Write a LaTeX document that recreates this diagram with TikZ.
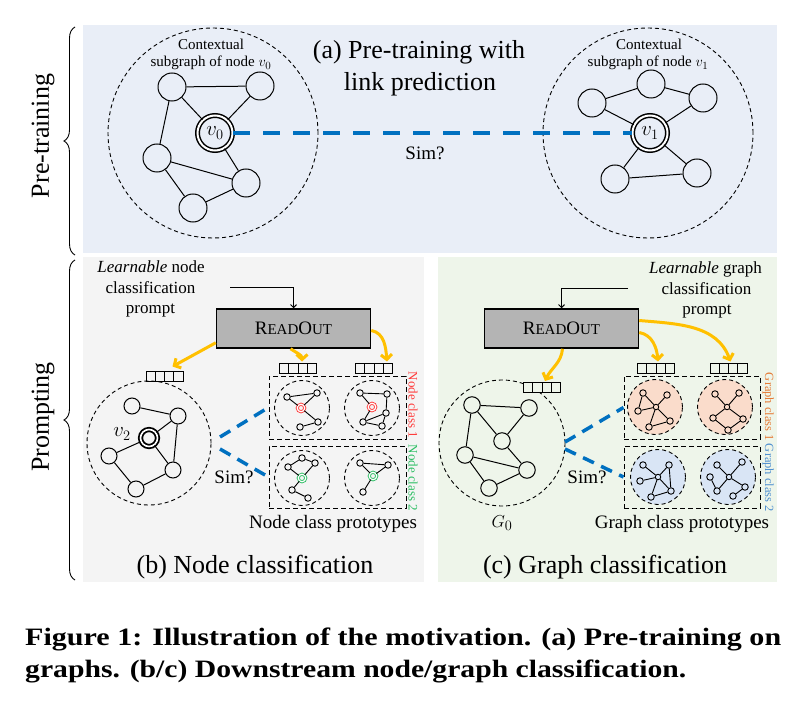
\documentclass[tikz,border=0pt]{standalone}
\usepackage{fontspec}
\setmainfont{Liberation Serif}
\usetikzlibrary{arrows.meta,decorations.pathreplacing,calc}
\definecolor{pbg}{HTML}{E9EEF7}
\definecolor{gbg}{HTML}{F4F4F4}
\definecolor{grbg}{HTML}{EEF5EA}
\definecolor{sblue}{HTML}{0070C0}
\definecolor{gold}{HTML}{FFC000}
\definecolor{rogray}{HTML}{B4B4B4}
\definecolor{ncred}{HTML}{FF3B3B}
\definecolor{ncgreen}{HTML}{2DBE64}
\definecolor{gcorange}{HTML}{E57A35}
\definecolor{gcblue}{HTML}{4F90D0}
\definecolor{cofill}{HTML}{FADCCB}
\definecolor{ctfill}{HTML}{D9E5F5}
\newcommand{\fsz}[1]{\fontsize{#1pt}{#1pt}\selectfont}
\begin{document}
\begin{tikzpicture}[x=1pt,y=-1pt,
 gnode/.style={circle,draw,line width=1pt,minimum size=28pt,inner sep=0pt},
 mnode/.style={circle,draw,line width=1pt,minimum size=16pt,inner sep=0pt},
 tnode/.style={circle,draw,line width=0.9pt,minimum size=6.5pt,inner sep=0pt},
 hnode/.style={circle,draw,line width=0.9pt,minimum size=5.5pt,inner sep=0pt},
 ctr/.style={circle,draw,line width=1.5pt,double,double distance=2pt,minimum size=35pt,inner sep=0pt,font=\fsz{20}},
 tctr/.style={circle,line width=0.9pt,double,double distance=1.2pt,minimum size=7.5pt,inner sep=0pt},
 gedge/.style={line width=1pt},
 sedge/.style={line width=0.9pt},
 dcirc/.style={circle,draw,dash pattern=on 4pt off 3pt,line width=0.9pt,inner sep=0pt},
 drect/.style={draw,dash pattern=on 5pt off 3pt,line width=1pt,inner sep=0pt},
 simline/.style={draw=sblue,line width=3.5pt,dash pattern=on 12pt off 8pt},
 oarrow/.style={draw=gold,line width=3pt,-{Straight Barb[length=5pt,width=11pt]}},
 karrow/.style={draw,line width=1pt,-{Straight Barb[length=3pt,width=6pt]}},
 rbox/.style={draw,line width=1.5pt,fill=rogray,minimum width=154pt,minimum height=39pt,inner sep=0pt},
 vec/.style={draw,line width=1pt,minimum width=37pt,minimum height=10pt,inner sep=0pt,
   path picture={\foreach \f in {0.25,0.5,0.75}{\draw[line width=1pt] ($(path picture bounding box.south west)!\f!(path picture bounding box.south east)$) -- ($(path picture bounding box.north west)!\f!(path picture bounding box.north east)$);}}},
 lbl/.style={inner sep=0pt,anchor=base},
]
\path[use as bounding box] (0,0) rectangle (799,703);
% panels
\fill[pbg] (83,25) rectangle (777,253);
\fill[gbg] (83,257) rectangle (424,582);
\fill[grbg] (438,257) rectangle (777,582);
% braces and side labels
\draw[decorate,decoration={brace,amplitude=11pt},line width=0.9pt] (75,255) -- (75,27);
\draw[decorate,decoration={brace,amplitude=11pt},line width=0.9pt] (75,580) -- (75,260);
\node[rotate=90,font=\fsz{26},inner sep=0pt] (lpre) at (43,136) {Pre-training};
\node[rotate=90,font=\fsz{26},inner sep=0pt] (lpro) at (43,417) {Prompting};

% ===== (a) =====
\node[dcirc,minimum size=210pt] (c0) at (213,133) {};
\node[dcirc,minimum size=210pt] (c1) at (648,133) {};
\node[lbl,font=\fsz{15}] (ctx0a) at (211,50) {Contextual};
\node[lbl,font=\fsz{15}] (ctx0b) at (211,67) {subgraph of node $v_0$};
\node[lbl,font=\fsz{15}] (ctx1a) at (649,50) {Contextual};
\node[lbl,font=\fsz{15}] (ctx1b) at (648,67) {subgraph of node $v_1$};
\node[lbl,font=\fsz{26}] (ta1) at (419,59) {(a) Pre-training with};
\node[lbl,font=\fsz{26}] (ta2) at (420,91) {link prediction};
\node[lbl,font=\fsz{19}] (sima) at (425,160) {Sim?};

\node[gnode] (A) at (172,87) {};
\node[gnode] (B) at (260,86) {};
\node[ctr] (v0) at (215,133) {$v_0$};
\node[gnode] (C) at (157,158) {};
\node[gnode] (D) at (246,183) {};
\node[gnode] (E) at (193,208) {};
\foreach \a/\b in {A/B,A/v0,B/v0,A/C,v0/D,C/D,C/E,E/D} \draw[gedge] (\a) -- (\b);

\node[gnode] (F) at (592,103) {};
\node[gnode] (G) at (651,84) {};
\node[gnode] (H) at (703,98) {};
\node[ctr] (v1) at (650,133) {$v_1$};
\node[gnode] (I) at (615,179) {};
\node[gnode] (J) at (697,173) {};
\foreach \a/\b in {F/G,G/H,F/v1,H/v1,v1/I,v1/J,I/J} \draw[gedge] (\a) -- (\b);

\draw[simline,line width=4.5pt,dash pattern=on 17pt off 13pt] (v0) -- (v1);

% ===== (b) =====
\node[lbl,font=\fsz{17}] (lb1) at (151,272) {\textit{Learnable} node};
\node[lbl,font=\fsz{17}] (lb2) at (150.5,293) {classification};
\node[lbl,font=\fsz{17}] (lb3) at (150.5,313) {prompt};
\node[rbox] (RO1) at (293.5,328.5) {\fsz{19}R\fsz{15}EAD\fsz{19}O\fsz{15}UT};
\coordinate (pb) at (230,287);
\draw[karrow] (pb) -| (RO1.north);

\node[vec] (VL) at (164.5,376) {};
\node[vec] (VM) at (298,368) {};
\node[vec] (VR) at (374,368) {};

\node[dcirc,minimum size=124pt] (cb) at (149,443) {};
\node[mnode] (a) at (132,406) {};
\node[mnode] (b) at (178,416) {};
\node[circle,draw,line width=1.8pt,double,double distance=1.6pt,minimum size=17pt,inner sep=0pt] (v2) at (149,438) {};
\node[mnode] (c) at (109,456) {};
\node[mnode] (d) at (173,470) {};
\node[mnode] (e) at (136,489) {};
\foreach \p/\q in {a/b,b/v2,b/d,v2/c,c/e,e/d,v2/d} \draw[gedge] (\p) -- (\q);
\node[font=\fsz{20},inner sep=0pt] (v2l) at (122,434) {$v_2$};

\node[drect,minimum width=137pt,minimum height=63pt] (R1) at (337.5,407.5) {};
\node[drect,minimum width=137pt,minimum height=62pt] (R2) at (337.5,477) {};
\node[dcirc,minimum size=55pt] (p11) at (302,408) {};
\node[dcirc,minimum size=55pt] (p12) at (372,408) {};
\node[dcirc,minimum size=55pt] (p21) at (302,478) {};
\node[dcirc,minimum size=55pt] (p22) at (372,478) {};

% class1 left
\node[tnode] (q1) at (287,397) {};
\node[tnode] (q2) at (317,393) {};
\node[tctr,draw=ncred] (qc) at (301,408) {};
\node[tnode] (q4) at (318,422) {};
\node[tnode] (q5) at (300,427) {};
\foreach \p/\q in {q1/q2,q2/qc,q1/qc,qc/q4,q4/q5} \draw[sedge] (\p) -- (\q);
% class1 right
\node[tnode] (r1) at (360,393) {};
\node[tnode] (r2) at (387,394) {};
\node[tctr,draw=ncred] (rc) at (372,407) {};
\node[tnode] (r4) at (386,413) {};
\node[tnode] (r5) at (363,422) {};
\node[tnode] (r6) at (382,426) {};
\foreach \p/\q in {r1/r2,r1/rc,r2/r4,rc/r5,r4/r5,r4/r6,r5/r6} \draw[sedge] (\p) -- (\q);
% class2 left
\node[tnode] (s1) at (288,467) {};
\node[tnode] (s2) at (302,458) {};
\node[tnode] (s3) at (315,463) {};
\node[tctr,draw=ncgreen] (sc) at (302,478) {};
\node[tnode] (s5) at (292,490) {};
\node[tnode] (s6) at (308,498) {};
\foreach \p/\q in {s1/s2,s2/s3,s3/sc,s1/sc,sc/s5,s5/s6} \draw[sedge] (\p) -- (\q);
% class2 right
\node[tnode] (t1) at (360,463) {};
\node[tnode] (t2) at (388,465) {};
\node[tctr,draw=ncgreen] (tc) at (373,476) {};
\node[tnode] (t4) at (363,492) {};
\foreach \p/\q in {t1/t2,t1/tc,t2/tc,tc/t4} \draw[sedge] (\p) -- (\q);

\node[rotate=-90,text=ncred,font=\fsz{13},inner sep=0pt] (nc1) at (413,405) {Node class 1};
\node[rotate=-90,text=ncgreen,font=\fsz{13},inner sep=0pt] (nc2) at (413,478) {Node class 2};

\coordinate (sb1) at (220,437);
\coordinate (sb2) at (220,449);
\draw[simline] (sb1) -- (R1.west);
\draw[simline] (sb2) -- (R2.west);
\node[lbl,font=\fsz{19}] (simb) at (234,483) {Sim?};
\node[lbl,font=\fsz{19}] (ncp) at (333,528) {Node class prototypes};
\node[lbl,font=\fsz{26}] (capb) at (255,573) {(b) Node classification};

\draw[oarrow] ($(RO1.south west)+(0,-6)$) -- ($(VL.north)+(8,-4)$);
\draw[oarrow] ($(RO1.south)+(-3,0)$) to[out=-35,in=90] ($(VM.north)+(4,-1)$);
\draw[oarrow] ($(RO1.east)+(0,2)$) to[out=-10,in=95] ($(VR.north)+(13,-1)$);

% ===== (c) =====
\node[lbl,font=\fsz{17}] (lc1) at (705.5,273) {\textit{Learnable} graph};
\node[lbl,font=\fsz{17}] (lc2) at (706.5,294) {classification};
\node[lbl,font=\fsz{17}] (lc3) at (707,314) {prompt};
\node[rbox] (RO2) at (561.5,328.5) {\fsz{19}R\fsz{15}EAD\fsz{19}O\fsz{15}UT};
\coordinate (pc) at (628,288);
\draw[karrow] (pc) -| (RO2.north);

\node[dcirc,minimum size=126pt] (cg) at (502,443) {};
\node[mnode,minimum size=16.5pt] (g1) at (472,405) {};
\node[mnode,minimum size=16.5pt] (g2) at (529,408) {};
\node[mnode,minimum size=16.5pt] (g3) at (502,441) {};
\node[mnode,minimum size=16.5pt] (g4) at (465,455) {};
\node[mnode,minimum size=16.5pt] (g5) at (527,470) {};
\node[mnode,minimum size=16.5pt] (g6) at (489,488) {};
\foreach \p/\q in {g1/g2,g1/g4,g1/g3,g3/g2,g3/g5,g4/g5,g4/g6,g6/g5} \draw[gedge] (\p) -- (\q);
\node[font=\fsz{19},inner sep=0pt] (g0l) at (502,523) {$G_0$};

\node[vec,fill=grbg] (VG0) at (542,387.5) {};
\node[vec] (VGM) at (656,368) {};
\node[vec] (VGR) at (728.5,368) {};

\node[drect,minimum width=136pt,minimum height=63pt] (R3) at (692,407.5) {};
\node[drect,minimum width=136pt,minimum height=62pt] (R4) at (692,477) {};
\node[dcirc,fill=cofill,minimum size=55pt] (h11) at (655,407) {};
\node[dcirc,fill=cofill,minimum size=55pt] (h12) at (725,407) {};
\node[dcirc,fill=ctfill,minimum size=55pt] (h21) at (658,477) {};
\node[dcirc,fill=ctfill,minimum size=55pt] (h22) at (728,477) {};

% graph class 1 left
\node[hnode] (u0) at (656,407) {};
\node[tnode] (u1) at (643,393) {};
\node[tnode] (u2) at (667,395) {};
\node[tnode] (u3) at (638,411) {};
\node[tnode] (u4) at (670,421) {};
\node[tnode] (u5) at (649,427) {};
\foreach \p/\q in {u0/u2,u0/u1,u1/u3,u3/u0,u0/u5,u5/u4,u4/u0} \draw[sedge] (\p) -- (\q);
% graph class 1 right
\node[hnode] (w0) at (727,407) {};
\node[tnode] (w1) at (715,394) {};
\node[tnode] (w2) at (739,393) {};
\node[tnode] (w3) at (713,418) {};
\node[tnode] (w4) at (743,419) {};
\node[tnode] (w5) at (728,430) {};
\foreach \p/\q in {w0/w1,w0/w2,w0/w3,w0/w4,w3/w5,w4/w5} \draw[sedge] (\p) -- (\q);
% graph class 2 left
\node[hnode] (x0) at (658,477) {};
\node[tnode] (x1) at (643,465) {};
\node[tnode] (x2) at (669,465) {};
\node[tnode] (x3) at (640,481) {};
\node[tnode] (x4) at (671,491) {};
\node[tnode] (x5) at (651,497) {};
\foreach \p/\q in {x0/x1,x0/x2,x0/x3,x2/x4,x0/x4,x0/x5,x5/x4} \draw[sedge] (\p) -- (\q);
% graph class 2 right
\node[hnode] (y0) at (729,477) {};
\node[tnode] (y1) at (717,465) {};
\node[tnode] (y2) at (742,462) {};
\node[tnode] (y3) at (710,477) {};
\node[tnode] (y4) at (717,491) {};
\node[tnode] (y5) at (745,487) {};
\node[tnode] (y6) at (733,496) {};
\foreach \p/\q in {y0/y1,y0/y2,y0/y4,y3/y4,y0/y5,y5/y6} \draw[sedge] (\p) -- (\q);

\node[rotate=-90,text=gcorange,font=\fsz{12.5},inner sep=0pt] (gc1) at (768,407) {Graph class 1};
\node[rotate=-90,text=gcblue,font=\fsz{12.5},inner sep=0pt] (gc2) at (768,478) {Graph class 2};

\coordinate (sc1) at (565,442);
\coordinate (sc2) at (565,449);
\draw[simline] (sc1) -- (R3.west);
\draw[simline] (sc2) -- (R4.west);
\node[lbl,font=\fsz{19}] (simc) at (587,483) {Sim?};
\node[lbl,font=\fsz{19}] (gcp) at (682,528) {Graph class prototypes};
\node[lbl,font=\fsz{26}] (capc) at (605,573) {(c) Graph classification};

\draw[oarrow] ($(RO2.south)+(1,0)$) to[out=-95,in=65] ($(VG0.north)+(3,-1)$);
\draw[oarrow] ($(RO2.east)+(0,4)$) to[out=-10,in=95] ($(VGM.north)+(2,-1)$);
\draw[oarrow] ($(RO2.east)+(0,-8)$) to[out=-5,in=110] ($(VGR.north)+(2,-1)$);

% caption
\node[anchor=base west,inner sep=0pt] (cap1) at (25,645) {\resizebox{756pt}{\height}{\fsz{25}\bfseries Figure 1: Illustration of the motivation. (a) Pre-training on}};
\node[anchor=base west,inner sep=0pt] (cap2) at (25,677) {\resizebox{661pt}{\height}{\fsz{25}\bfseries graphs. (b/c) Downstream node/graph classification.}};
\end{tikzpicture}
\end{document}
